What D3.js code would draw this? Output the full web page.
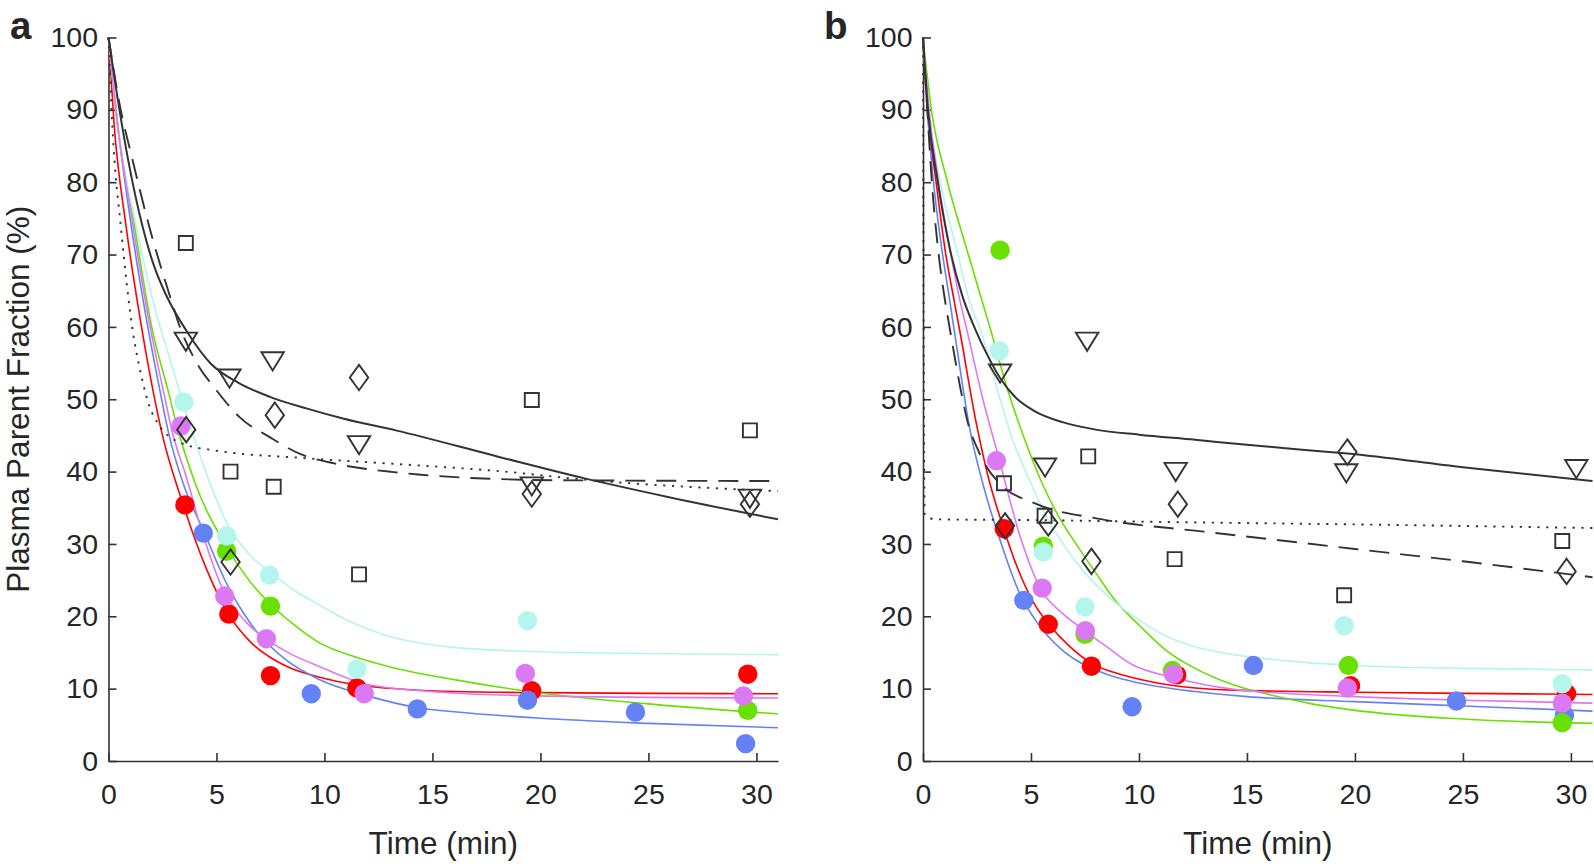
<!DOCTYPE html>
<html>
<head>
<meta charset="utf-8">
<script src="https://cdn.jsdelivr.net/npm/d3@7"></script>
<style>
  body { margin: 0; background: #fff; }
  svg text { font-family: "Liberation Sans", Arial, Helvetica, sans-serif; fill: #262626; }
</style>
</head>
<body>
<div id="chart"></div>
<script>
/* DATA */
const xTicks = [0, 5, 10, 15, 20, 25, 30];
const yTicks = [0, 10, 20, 30, 40, 50, 60, 70, 80, 90, 100];
const xLabel = "Time (min)";
const yLabel = "Plasma Parent Fraction (%)";

// panel a - measured points [time, %]
const aDotsRed = [[3.54,35.4],[5.57,20.3],[7.5,11.8],[11.5,10.1],[19.6,9.7],[29.6,12.0]];
const aDotsBlue = [[4.39,31.5],[9.39,9.3],[14.3,7.2],[19.4,8.4],[24.4,6.75],[29.5,2.4]];
const aDotsGreen = [[5.47,29.0],[7.5,21.4],[29.6,7.0]];
const aDotsCyan = [[3.49,49.6],[5.47,31.1],[7.45,25.7],[11.5,12.7],[19.4,19.4]];
const aDotsViolet = [[3.35,46.3],[5.38,22.8],[7.31,16.9],[11.84,9.3],[19.3,12.1],[29.4,9.0]];
const aSquares = [[3.58,71.6],[5.65,40.0],[7.65,37.9],[11.6,25.8],[19.6,49.9],[29.7,45.7]];
const aTriangles = [[3.58,58.1],[5.6,53.0],[7.6,55.4],[11.6,43.8],[19.6,38.1],[29.7,36.4]];
const aDiamonds = [[3.6,45.8],[5.65,27.5],[7.7,47.8],[11.6,53.0],[19.6,36.9],[29.7,35.5]];

// panel a - fitted curves
const aFitRed = [[0,100],[0.26,88],[0.81,74],[1.5,60.5],[2.1,50.6],[2.46,45.5],[3.44,35.6],[4.5,26.8],[5.49,20.6],[6.59,16.4],[7.5,14.3],[8.16,13.2],[10,11.4],[11.3,10.6],[13,10.05],[16,9.6],[20,9.45],[25,9.35],[31,9.3]];
const aFitBlue = [[0,100],[0.42,88],[1.05,74],[1.7,62],[2.42,50.6],[2.77,45.5],[3.5,38],[4.39,31.9],[5.49,24.4],[6.6,18.9],[8.16,14.1],[9.73,11.3],[12,9],[14.45,7.3],[16,6.8],[20,5.9],[25,5.2],[31,4.6]];
const aFitGreen = [[0,100],[0.42,88],[1.2,74],[2,60],[2.81,50.6],[3.15,46.5],[4,38.5],[5.49,29.5],[6.5,25],[7.53,21.6],[8.6,18.8],[9.73,16.4],[11.3,14.5],[12.9,13.1],[16,11.25],[20,9.4],[25,7.9],[31,6.5]];
const aFitCyan = [[0,100],[0.42,88],[1.28,74],[2.2,62],[2.8,56],[3.4,50],[4.5,40],[5.5,32.8],[6.5,28.6],[7.53,26],[8.6,23.6],[9.73,21.6],[11.3,19.1],[12.9,17.3],[16,15.7],[20,15.1],[25,14.85],[31,14.7]];
const aFitViolet = [[0,100],[0.42,88],[1.13,74],[1.8,62],[2.58,50.6],[2.95,45.5],[3.6,39.3],[4.3,32],[5.33,23.5],[6.3,19.4],[7.37,16.7],[8.5,14.7],[9.73,13.1],[12.1,10.5],[16,9.4],[20,9.0],[25,8.8],[31,8.7]];
const aFitSolid = [[0,100],[0.4,92],[0.89,83.4],[1.6,73.6],[2.1,68.5],[2.7,64.2],[3.6,59.5],[4.74,54.9],[6,52.3],[7.5,50.3],[9.2,48.7],[10.9,47.3],[13.3,45.7],[18,42.1],[22,39.1],[25.9,36.5],[31,33.4]];
const aFitDashed = [[0,100],[0.5,91],[1.12,83],[1.91,73.6],[2.85,64.2],[3.33,59.8],[4.05,55.2],[4.98,51.3],[6.08,47.5],[7.5,44.7],[8.9,42.4],[10.5,41.1],[13.3,39.9],[15.7,39.3],[21,38.8],[31,38.7]];
const aFitDotted = [[0,100],[0.18,87.7],[0.58,73.6],[1.12,59.5],[1.5,53.5],[1.9,49.0],[2.3,46.6],[3.4,43.9],[4.98,42.9],[8.9,41.9],[13.6,41.0],[18.35,40.0],[22,38.9],[31,37.3]];

// panel b - measured points
const bDotsRed = [[3.76,32.1],[5.8,18.9],[7.8,13.1],[11.75,11.9],[19.8,10.4],[29.8,9.3]];
const bDotsBlue = [[4.67,22.2],[9.68,7.5],[15.3,13.2],[24.7,8.3],[29.7,6.3]];
const bDotsGreen = [[3.57,70.6],[5.57,29.7],[7.5,17.5],[11.55,12.5],[19.7,13.2],[29.6,5.3]];
const bDotsCyan = [[3.53,56.7],[5.57,28.9],[7.5,21.3],[19.5,18.7],[29.6,10.7]];
const bDotsViolet = [[3.4,41.5],[5.52,23.9],[7.52,18.0],[11.6,12.0],[19.65,10.1],[29.6,8.0]];
const bSquares = [[3.75,38.4],[5.63,33.9],[7.65,42.1],[11.65,27.9],[19.5,22.9],[29.6,30.4]];
const bTriangles = [[3.57,53.7],[5.65,40.7],[7.6,58.1],[11.7,40.1],[19.6,39.9],[30.25,40.5]];
const bDiamonds = [[3.8,32.5],[5.8,32.9],[7.8,27.6],[11.8,35.5],[19.65,42.7],[29.8,26.2]];

// panel b - fitted curves
const bFitRed = [[0,100],[0.2,90],[0.59,80.4],[1.02,70.7],[1.45,63.5],[1.7,59.5],[2.48,46.5],[3.0,39.5],[3.75,32],[4.4,26.5],[5.14,21.8],[5.8,19],[6.8,15.8],[7.8,13.5],[9,12.1],[10.5,11],[12.6,10.1],[14.4,9.8],[20,9.5],[25,9.35],[31,9.2]];
const bFitBlue = [[0,100],[0.2,90],[0.47,80.5],[0.86,71],[1.22,64],[1.6,56.5],[2.16,46],[2.8,38],[3.57,30.5],[4.5,23],[5.2,19.5],[5.8,17.2],[6.5,15.2],[7.4,13.4],[8.5,12],[9.7,11],[12.6,9.6],[15,8.9],[20,8.2],[25,7.6],[31,6.9]];
const bFitGreen = [[0,100],[0.39,90],[1.1,80.4],[2.03,70.7],[3.13,59.6],[3.9,51.5],[4.7,44.5],[5.5,38.5],[6.3,33.7],[7.2,29.5],[8.0,26],[8.95,22],[10,18.8],[11.3,15.2],[12.6,12.8],[14.4,10.5],[16,9.2],[18,7.9],[20,7.0],[25,5.8],[31,5.2]];
const bFitCyan = [[0,100],[0.28,90],[0.78,80.4],[1.56,70.7],[2.16,63.5],[2.66,59.6],[3.57,50],[4.2,44],[4.83,39.5],[5.6,34.5],[6.6,29.5],[7.5,26],[8.95,21.8],[10,19.5],[11.3,17.2],[12.6,15.8],[14.4,14.7],[17,13.8],[20,13.2],[25,12.8],[31,12.6]];
const bFitViolet = [[0,100],[0.28,90],[0.7,80.4],[1.25,70.7],[1.69,63.9],[2.03,59.6],[2.79,49.8],[3.5,42],[4.5,31],[5.45,23.8],[6.5,20.3],[7.5,18],[8.5,15.8],[9.7,13.3],[11.5,11.6],[14.4,9.9],[20,8.9],[25,8.4],[31,8.0]];
const bFitSolid = [[0,100],[0.23,90],[0.66,80.5],[1.25,70.7],[1.8,64.5],[2.43,59.6],[3.0,56],[3.6,52.8],[4.3,50.2],[5.14,48.4],[6.5,46.8],[8,45.8],[10,45.1],[12.6,44.4],[15,43.7],[17.7,43],[19.65,42.5],[25,40.6],[31,38.7]];
const bFitDashed = [[0,100],[0.2,90],[0.4,80.4],[0.7,70.7],[1.0,64],[1.25,59.6],[1.8,50.5],[2.1,46.5],[2.5,43.3],[2.8,41.4],[3.6,38.2],[5.1,35.7],[8.3,33.4],[13,31.7],[17.7,30.1],[20,29.3],[25,27.6],[31,25.4]];
const bFitDotted = [[0,100],[0.03,60],[0.08,34],[0.6,33.4],[5,33.3],[12,33],[20,32.7],[31,32.2]];

/* STYLES */
const colors = { red: "#ff0000", blue: "#6482f5", green: "#68e000", cyan: "#b4f6ec", violet: "#dc78f6" };
const ink = "#333333";
const markerPaths = {
  square: "M-7,-7H7V7H-7Z",
  triangle: "M-11.2,-8H11.2L0,10.2Z",
  diamond: "M0,-12.7L9.2,0L0,12.7L-9.2,0Z"
};

/* LAYOUT */
const width = 1594, height = 866;
const plotTop = 37.5, plotBottom = 761;

let svg, yScale;

function init() {
  svg = d3.select("#chart").append("svg")
    .attr("width", width)
    .attr("height", height);

  yScale = d3.scaleLinear().domain([0, 100]).range([plotBottom, plotTop]);

  drawPanel({
    letter: "a", left: 108.5, right: 778, letterX: 10,
    fits: [["red", aFitRed], ["blue", aFitBlue], ["green", aFitGreen], ["cyan", aFitCyan], ["violet", aFitViolet]],
    black: [["solid", aFitSolid], ["dashed", aFitDashed], ["dotted", aFitDotted]],
    dots: [["red", aDotsRed], ["blue", aDotsBlue], ["green", aDotsGreen], ["cyan", aDotsCyan], ["violet", aDotsViolet]],
    marks: [["square", aSquares], ["triangle", aTriangles], ["diamond", aDiamonds]]
  });

  drawPanel({
    letter: "b", left: 923, right: 1592.5, letterX: 824,
    fits: [["red", bFitRed], ["blue", bFitBlue], ["green", bFitGreen], ["cyan", bFitCyan], ["violet", bFitViolet]],
    black: [["solid", bFitSolid], ["dashed", bFitDashed], ["dotted", bFitDotted]],
    dots: [["red", bDotsRed], ["blue", bDotsBlue], ["green", bDotsGreen], ["cyan", bDotsCyan], ["violet", bDotsViolet]],
    marks: [["square", bSquares], ["triangle", bTriangles], ["diamond", bDiamonds]]
  });

  // y label only once, left of panel a
  svg.append("text")
    .attr("transform", `translate(28.5,${(plotTop + plotBottom) / 2}) rotate(-90)`)
    .attr("text-anchor", "middle")
    .attr("font-size", 31.5)
    .text(yLabel);
}

function drawPanel(p) {
  const xScale = d3.scaleLinear().domain([0, 31]).range([p.left, p.right]);
  const g = svg.append("g");

  const line = d3.line()
    .x(d => xScale(d[0]))
    .y(d => yScale(d[1]))
    .curve(d3.curveMonotoneX);

  // axes, ticks pointing inward
  const xAxis = d3.axisBottom(xScale).tickValues(xTicks).tickSize(-8).tickSizeOuter(0).tickPadding(22.5);
  const yAxis = d3.axisLeft(yScale).tickValues(yTicks).tickSize(-8).tickSizeOuter(0).tickPadding(10.5);

  g.append("g")
    .attr("transform", `translate(0,${plotBottom})`)
    .call(xAxis)
    .call(ax => ax.selectAll("text").attr("font-size", 28.5).attr("fill", "#262626"));
  g.append("g")
    .attr("transform", `translate(${p.left},0)`)
    .call(yAxis)
    .call(ax => ax.selectAll("text").attr("font-size", 28.5).attr("fill", "#262626"));
  g.selectAll(".domain, .tick line").attr("stroke", ink).attr("stroke-width", 1.6);
  g.selectAll(".tick text").attr("font-family", "Liberation Sans, Arial, sans-serif");

  // colored fits
  g.selectAll(".fit")
    .data(p.fits)
    .join("path")
    .attr("class", "fit")
    .attr("fill", "none")
    .attr("stroke", d => colors[d[0]])
    .attr("stroke-width", 1.6)
    .attr("d", d => line(d[1]));

  // black fits
  g.selectAll(".bfit")
    .data(p.black)
    .join("path")
    .attr("class", "bfit")
    .attr("fill", "none")
    .attr("stroke", ink)
    .attr("stroke-width", d => d[0] === "solid" ? 2 : 1.9)
    .attr("stroke-dasharray", d => d[0] === "dashed" ? "20,11" : d[0] === "dotted" ? "2.2,6.6" : null)
    .attr("d", d => line(d[1]));

  // filled dots
  p.dots.forEach(([name, pts]) => {
    g.selectAll(".dot-" + name)
      .data(pts)
      .join("circle")
      .attr("class", "dot-" + name)
      .attr("cx", d => xScale(d[0]))
      .attr("cy", d => yScale(d[1]))
      .attr("r", 9.7)
      .attr("fill", colors[name]);
  });

  // open black markers
  p.marks.forEach(([shape, pts]) => {
    g.selectAll(".mk-" + shape)
      .data(pts)
      .join("path")
      .attr("class", "mk-" + shape)
      .attr("transform", d => `translate(${xScale(d[0])},${yScale(d[1])})`)
      .attr("d", markerPaths[shape])
      .attr("fill", "none")
      .attr("stroke", ink)
      .attr("stroke-width", 1.9);
  });

  // x label
  g.append("text")
    .attr("x", (p.left + p.right) / 2)
    .attr("y", 854)
    .attr("text-anchor", "middle")
    .attr("font-size", 31.5)
    .text(xLabel);

  // panel letter
  g.append("text")
    .attr("x", p.letterX)
    .attr("y", 38.5)
    .attr("font-size", 38.5)
    .attr("font-weight", "bold")
    .text(p.letter);
}

init();
</script>
</body>
</html>
